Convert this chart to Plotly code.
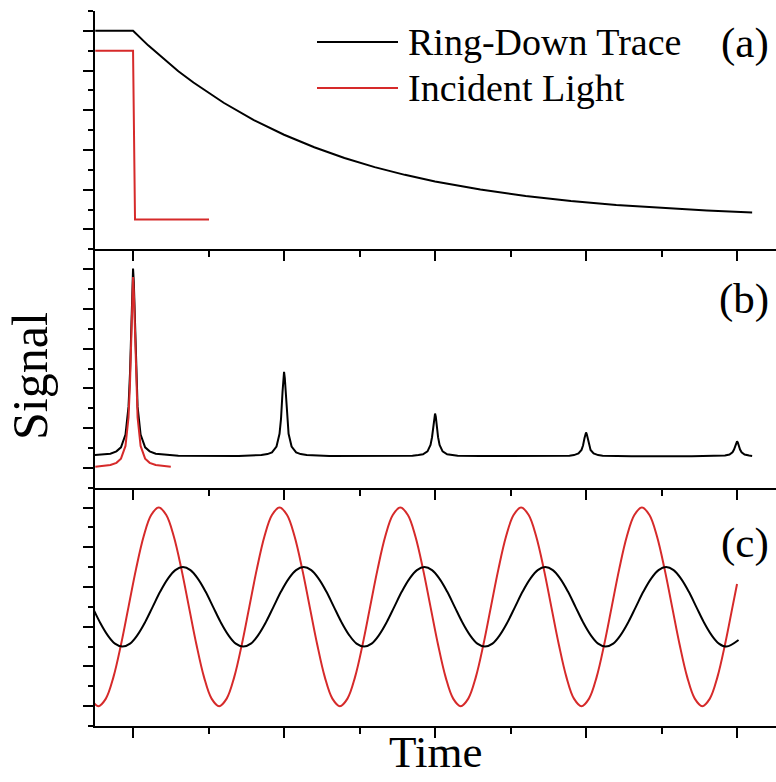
import plotly.graph_objects as go

# ---------------- data ----------------
# Panel (a): ring-down trace and incident light step
ringdown_t = [-0.25, 0.0, 0.1, 0.2, 0.3, 0.4, 0.5, 0.6, 0.8, 1.0, 1.2, 1.4, 1.6, 1.8,
              2.0, 2.3, 2.6, 2.9, 3.2, 3.5, 3.8, 4.1]
ringdown_y = [11.0, 11.0, 10.27, 9.60, 8.97, 8.40, 7.87, 7.38, 6.51, 5.77, 5.14, 4.60,
              4.14, 3.75, 3.42, 3.01, 2.69, 2.43, 2.23, 2.08, 1.95, 1.86]
incident_a_t = [-0.25, 0.0, 0.013, 0.503]
incident_a_y = [10.0, 10.0, 1.5, 1.5]

# Panel (b): transmitted peaks (offsets around each peak centre)
peak_centers = [0, 1, 2, 3, 4]
peak_offsets = [-0.3, -0.15, -0.11, -0.08, -0.05, -0.03, -0.02, -0.01, -0.005, 0.0,
                0.005, 0.01, 0.02, 0.03, 0.05, 0.08, 0.11, 0.15, 0.3]
peak0_y = [1.61, 1.71, 1.83, 2.03, 2.67, 4.08, 5.80, 8.80, 10.35, 11.03,
           10.35, 8.80, 5.80, 4.08, 2.67, 2.03, 1.83, 1.71, 1.61]
peak1_y = [1.60, 1.64, 1.69, 1.78, 2.07, 2.71, 3.48, 4.83, 5.52, 5.83,
           5.52, 4.83, 3.48, 2.71, 2.07, 1.78, 1.69, 1.64, 1.60]
peak2_y = [1.59, 1.61, 1.64, 1.68, 1.83, 2.15, 2.54, 3.22, 3.58, 3.73,
           3.58, 3.22, 2.54, 2.15, 1.83, 1.68, 1.64, 1.61, 1.59]
peak3_y = [1.58, 1.60, 1.61, 1.64, 1.72, 1.90, 2.12, 2.50, 2.69, 2.78,
           2.69, 2.50, 2.12, 1.90, 1.72, 1.64, 1.61, 1.60, 1.58]
peak4_offsets = [-0.3, -0.15, -0.11, -0.08, -0.05, -0.03, -0.02, -0.01, -0.005, 0.0,
                 0.005, 0.01, 0.02, 0.03, 0.05, 0.08, 0.1]
peak4_y = [1.58, 1.59, 1.60, 1.62, 1.67, 1.78, 1.92, 2.15, 2.28, 2.33,
           2.28, 2.15, 1.92, 1.78, 1.67, 1.62, 1.60]

incident_b_t = [-0.25, -0.15, -0.11, -0.08, -0.05, -0.03, -0.02, -0.01, -0.005, 0.0,
                0.005, 0.01, 0.02, 0.03, 0.05, 0.08, 0.11, 0.15, 0.25]
incident_b_y = [1.05, 1.14, 1.25, 1.46, 2.10, 3.54, 5.29, 8.33, 9.91, 10.6,
                9.91, 8.33, 5.29, 3.54, 2.10, 1.46, 1.25, 1.14, 1.05]

# Panel (c): modulated signals, sampled every 0.05 time units
incident_c_start, incident_c_step = -0.33, 0.05
incident_c_y = [
    2.46, 1.38, 1.0, 1.38, 2.46, 4.09, 6.0, 7.91, 9.54, 10.62, 11.0, 10.62, 9.54, 7.91, 6.0, 4.09,
    2.46, 1.38, 1.0, 1.38, 2.46, 4.09, 6.0, 7.91, 9.54, 10.62, 11.0, 10.62, 9.54, 7.91, 6.0, 4.09,
    2.46, 1.38, 1.0, 1.38, 2.46, 4.09, 6.0, 7.91, 9.54, 10.62, 11.0, 10.62, 9.54, 7.91, 6.0, 4.09,
    2.46, 1.38, 1.0, 1.38, 2.46, 4.09, 6.0, 7.91, 9.54, 10.62, 11.0, 10.62, 9.54, 7.91, 6.0, 4.09,
    2.46, 1.38, 1.0, 1.38, 2.46, 4.09, 6.0, 7.91, 9.54, 10.62, 11.0, 10.62, 9.54, 7.91, 6.0, 4.09,
    2.46, 1.38, 1.0, 1.38, 2.46, 4.09, 6.0,
]
incident_c_end = (4.0, 7.15)

ringdown_c_start, ringdown_c_step = -0.27, 0.05
ringdown_c_y = [
    6.0, 5.23, 4.59, 4.15, 4.0, 4.15, 4.59, 5.23, 6.0, 6.77, 7.41, 7.85, 8.0, 7.85, 7.41, 6.77,
    6.0, 5.23, 4.59, 4.15, 4.0, 4.15, 4.59, 5.23, 6.0, 6.77, 7.41, 7.85, 8.0, 7.85, 7.41, 6.77,
    6.0, 5.23, 4.59, 4.15, 4.0, 4.15, 4.59, 5.23, 6.0, 6.77, 7.41, 7.85, 8.0, 7.85, 7.41, 6.77,
    6.0, 5.23, 4.59, 4.15, 4.0, 4.15, 4.59, 5.23, 6.0, 6.77, 7.41, 7.85, 8.0, 7.85, 7.41, 6.77,
    6.0, 5.23, 4.59, 4.15, 4.0, 4.15, 4.59, 5.23, 6.0, 6.77, 7.41, 7.85, 8.0, 7.85, 7.41, 6.77,
    6.0, 5.23, 4.59, 4.15, 4.0,
]
ringdown_c_end = (4.01, 4.33)

legend_names = ["Ring-Down Trace", "Incident Light"]
panel_labels = ["(a)", "(b)", "(c)"]
x_title = "Time"
y_title = "Signal"

# ---------------- assemble series ----------------
peak_lists = [peak0_y, peak1_y, peak2_y, peak3_y]
ring_b_t, ring_b_y = [], []
for c, ys in zip(peak_centers[:4], peak_lists):
    ring_b_t += [c + o for o in peak_offsets]
    ring_b_y += ys
ring_b_t += [peak_centers[4] + o for o in peak4_offsets]
ring_b_y += peak4_y

incident_c_t = [round(incident_c_start + i * incident_c_step, 4) for i in range(len(incident_c_y))]
incident_c_t.append(incident_c_end[0])
incident_c_yy = incident_c_y + [incident_c_end[1]]
ringdown_c_t = [round(ringdown_c_start + i * ringdown_c_step, 4) for i in range(len(ringdown_c_y))]
ringdown_c_t.append(ringdown_c_end[0])
ringdown_c_yy = ringdown_c_y + [ringdown_c_end[1]]

BLACK = "#000000"
RED = "#d62a2a"
SERIF = "Liberation Serif"

W, H = 776, 782
ML, MR, MT, MB = 95, 0, 11, 56
PW, PH = W - ML - MR, H - MT - MB


def fx(p):
    return (p - ML) / PW


def fy(p):
    return (H - MB - p) / PH


fig = go.Figure()
fig.update_layout(
    width=W, height=H, margin=dict(l=ML, r=MR, t=MT, b=MB),
    paper_bgcolor="white", plot_bgcolor="white", showlegend=False,
    font=dict(family=SERIF, color=BLACK, size=20),
)

# text (legend, panel tags, axis titles)
for name, ypix in zip(legend_names, [42, 88]):
    fig.add_annotation(xref="paper", yref="paper", x=fx(406), y=fy(ypix), text=name,
                       showarrow=False, xanchor="left", yanchor="middle",
                       font=dict(family=SERIF, size=38, color=BLACK))
for lab, ypix in zip(panel_labels, [43, 299, 543]):
    fig.add_annotation(xref="paper", yref="paper", x=fx(771), y=fy(ypix), text=lab,
                       showarrow=False, xanchor="right", yanchor="middle",
                       font=dict(family=SERIF, size=43, color=BLACK))
fig.add_annotation(xref="paper", yref="paper", x=0.5, y=fy(752), text=x_title,
                   showarrow=False, xanchor="center", yanchor="middle",
                   font=dict(family=SERIF, size=45, color=BLACK))
fig.add_annotation(xref="paper", yref="paper", x=fx(30), y=fy(376), text=y_title,
                   showarrow=False, xanchor="center", yanchor="middle", textangle=-90,
                   font=dict(family=SERIF, size=50, color=BLACK))

fig.add_trace(go.Scatter(x=ringdown_t, y=ringdown_y, mode="lines",
                         line=dict(color=BLACK, width=2), xaxis="x", yaxis="y"))
fig.add_trace(go.Scatter(x=incident_a_t, y=incident_a_y, mode="lines",
                         line=dict(color=RED, width=2), xaxis="x", yaxis="y"))
fig.add_trace(go.Scatter(x=ring_b_t, y=ring_b_y, mode="lines",
                         line=dict(color=BLACK, width=2), xaxis="x2", yaxis="y2"))
fig.add_trace(go.Scatter(x=incident_b_t, y=incident_b_y, mode="lines",
                         line=dict(color=RED, width=2), xaxis="x2", yaxis="y2"))
fig.add_trace(go.Scatter(x=incident_c_t, y=incident_c_yy, mode="lines",
                         line=dict(color=RED, width=2, shape="spline", smoothing=1),
                         xaxis="x3", yaxis="y3"))
fig.add_trace(go.Scatter(x=ringdown_c_t, y=ringdown_c_yy, mode="lines",
                         line=dict(color=BLACK, width=2, shape="spline", smoothing=1),
                         xaxis="x3", yaxis="y3"))

xax = dict(range=[-0.252, 4.258], showline=True, linewidth=2, linecolor=BLACK,
           showgrid=False, zeroline=False, showticklabels=False, ticks="outside",
           dtick=1, ticklen=10, tickwidth=2, tickcolor=BLACK,
           minor=dict(ticks="outside", dtick=0.5, ticklen=6, tickwidth=2, tickcolor=BLACK))
yax = dict(range=[0, 12], showline=True, linewidth=2, linecolor=BLACK,
           showgrid=False, zeroline=False, showticklabels=False, ticks="outside",
           tick0=1, dtick=2, ticklen=10, tickwidth=2, tickcolor=BLACK,
           minor=dict(ticks="outside", tick0=0, dtick=1, ticklen=5, tickwidth=2,
                      tickcolor=BLACK))
fig.update_layout(
    xaxis=dict(xax, anchor="y", domain=[0, 1]),
    xaxis2=dict(xax, anchor="y2", domain=[0, 1]),
    xaxis3=dict(xax, anchor="y3", domain=[0, 1]),
    yaxis=dict(yax, anchor="x", domain=[2 / 3, 1]),
    yaxis2=dict(yax, anchor="x2", domain=[1 / 3, 2 / 3]),
    yaxis3=dict(yax, anchor="x3", domain=[0, 1 / 3]),
)

# legend swatches
for col, ypix in zip([BLACK, RED], [42, 88]):
    fig.add_shape(type="line", xref="paper", yref="paper", x0=fx(317), x1=fx(398),
                  y0=fy(ypix), y1=fy(ypix), line=dict(color=col, width=2))

fig.write_html("out.html")
